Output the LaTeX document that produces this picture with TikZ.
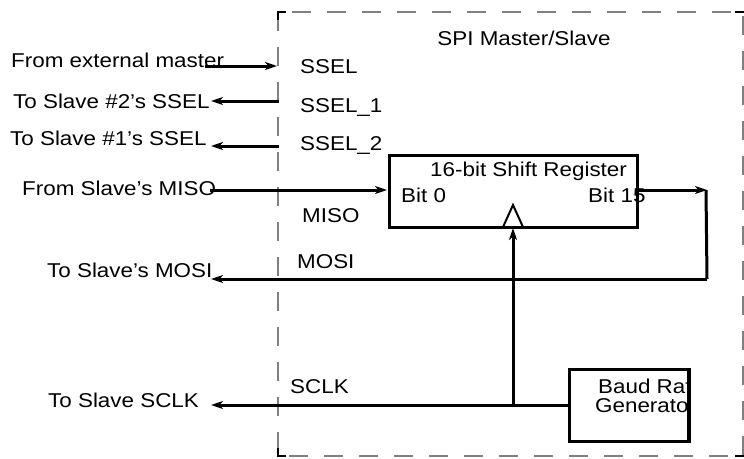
\documentclass[tikz,border=0pt]{standalone}
\usepackage{fontspec}
\setmainfont[FakeStretch=1.12]{Liberation Sans}
\usetikzlibrary{arrows.meta}
\begin{document}
\begin{tikzpicture}[x=1pt,y=-1pt,
  lbl/.style={anchor=base west,inner sep=0pt,font=\fontsize{20}{24}\selectfont},
  clbl/.style={anchor=base,inner sep=0pt,font=\fontsize{20}{24}\selectfont},
  wire/.style={line width=3pt},
  arr/.style={wire,-{Stealth[length=12pt,width=8pt,inset=3.5pt]}},
  blk/.style={draw,line width=3pt,inner sep=0pt},
  frame/.style={draw=black!50,line width=1.6pt,dash pattern=on 19pt off 16pt},
  corner/.style={line width=2.5pt}]
\useasboundingbox (0,0) rectangle (744,458);

% dashed frame
\draw[frame] (278,12) rectangle (743,456);
\draw[corner] (278,20) -- (278,12) -- (286,12);
\draw[corner] (735,12) -- (744,12);
\draw[corner] (278,448) -- (278,456) -- (286,456);
\draw[corner] (735,456) -- (744,456);
\node[clbl] (title) at (524,45) {SPI Master/Slave};

% internal labels
\node[lbl] (ssel)  at (300,73)  {SSEL};
\node[lbl] (ssel1) at (300,112) {SSEL\_1};
\node[lbl] (ssel2) at (300,150) {SSEL\_2};
\node[lbl] (miso)  at (302,222) {MISO};
\node[lbl] (mosi)  at (297,268) {MOSI};
\node[lbl] (sclk)  at (290,393) {SCLK};

% external labels
\node[lbl] (extm)  at (11,67)  {From external master};
\node[lbl] (s2)    at (13,108) {To Slave \#2’s SSEL};
\node[lbl] (s1)    at (10,145) {To Slave \#1’s SSEL};
\node[lbl] (fmiso) at (22,195) {From Slave’s MISO};
\node[lbl] (tmosi) at (47,277) {To Slave’s MOSI};
\node[lbl] (tsclk) at (48,407) {To Slave SCLK};

% shift register
\node[blk,minimum width=248pt,minimum height=72pt] (sr) at (513,191) {};
\node[lbl] (srt)  at (430,176) {16-bit Shift Register};
\node[lbl] (b0)   at (401,202) {Bit 0};
\node[lbl] (b15)  at (588,202) {Bit 15};
\draw[line width=2pt] (503,227) -- (513,205) -- (523,227);

% baud rate generator
\node[blk,minimum width=119pt,minimum height=72pt] (baud) at (628.5,405) {};
\begin{scope}
  \clip (569,369) rectangle (688,441);
  \node[lbl] (baudt1) at (598,393) {Baud Rate};
  \node[lbl] (baudt2) at (595,412) {Generator};
\end{scope}
\draw[line width=3pt] (baud.north east) -- (baud.south east);

% coordinates
\coordinate (extA) at (205,66);
\coordinate (extB) at (277,66);
\coordinate (s2A) at (279,101);
\coordinate (s2B) at (211,101);
\coordinate (s1A) at (279,146);
\coordinate (s1B) at (211,146);
\coordinate (misoA) at (210,190);
\coordinate (misoB) at (387,190);
\coordinate (outA) at (637,190);
\coordinate (outB) at (707,190);
\coordinate (corner1) at (707,279);
\coordinate (mosiB) at (211,279);
\coordinate (sclkA) at (569,405);
\coordinate (junc) at (513,405);
\coordinate (sclkB) at (211,405);
\coordinate (clk) at (513,228);

% connectors
\draw[arr] (extA) -- (extB);
\draw[arr] (s2A) -- (s2B);
\draw[arr] (s1A) -- (s1B);
\draw[arr] (misoA) -- (misoB);
\draw[arr] (outA) -- (outB);
\draw[wire] (706,190) -- (corner1);
\draw[arr] (corner1) -- (mosiB);
\draw[arr] (sclkA) -- (sclkB);
\draw[arr] (junc) -- (clk);
\end{tikzpicture}
\end{document}
